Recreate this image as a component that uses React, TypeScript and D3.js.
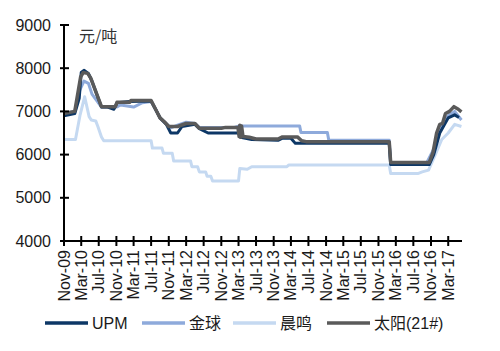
import { useRef, useEffect } from "react";
import * as d3 from "d3";

type Pt = [string, number];

// 太阳(21#)
const taiyang: Pt[] = [
  ["2009-11-01", 6950], ["2010-01-15", 7000], ["2010-02-25", 7800], ["2010-03-15", 7900],
  ["2010-04-15", 7880], ["2010-05-05", 7780], ["2010-07-20", 7110], ["2010-10-25", 7110],
  ["2010-11-05", 7210], ["2011-02-01", 7210], ["2011-02-10", 7250], ["2011-07-01", 7250],
  ["2011-08-01", 7050], ["2011-09-01", 6850], ["2011-10-01", 6760], ["2011-11-01", 6650],
  ["2012-01-01", 6650], ["2012-03-01", 6720], ["2012-05-01", 6720], ["2012-06-01", 6610],
  ["2012-11-01", 6610], ["2012-12-01", 6630], ["2013-02-25", 6630], ["2013-03-05", 6420],
  ["2013-03-10", 6680], ["2013-03-16", 6400], ["2013-03-22", 6660], ["2013-04-01", 6420],
  ["2013-05-15", 6400], ["2013-07-01", 6360], ["2013-12-01", 6360], ["2014-01-01", 6410],
  ["2014-04-15", 6410], ["2014-05-15", 6320], ["2014-06-15", 6300], ["2016-01-15", 6300],
  ["2016-01-25", 5820], ["2016-10-20", 5820], ["2016-11-15", 6050], ["2016-12-10", 6500],
  ["2017-01-01", 6700], ["2017-01-20", 6720], ["2017-02-10", 6950], ["2017-03-10", 7000],
  ["2017-04-10", 7110], ["2017-05-10", 7050], ["2017-06-01", 6990],
];

const upm: Pt[] = [
  ["2009-11-01", 6900], ["2010-01-15", 6950], ["2010-02-15", 7300], ["2010-03-01", 7900],
  ["2010-03-20", 7950], ["2010-04-20", 7880], ["2010-05-15", 7700], ["2010-07-20", 7100],
  ["2010-09-01", 7100], ["2010-10-15", 7050], ["2010-11-05", 7200], ["2011-02-01", 7230],
  ["2011-07-01", 7240], ["2011-08-01", 7050], ["2011-09-01", 6850], ["2011-10-15", 6700],
  ["2011-11-15", 6500], ["2012-01-01", 6500], ["2012-02-01", 6650], ["2012-05-01", 6700],
  ["2012-06-01", 6600], ["2012-08-01", 6500], ["2013-03-01", 6500], ["2013-03-15", 6400],
  ["2013-06-01", 6350], ["2013-12-01", 6330], ["2014-01-01", 6380], ["2014-03-01", 6380],
  ["2014-04-01", 6260], ["2016-01-15", 6260], ["2016-01-25", 5770], ["2016-10-20", 5770],
  ["2016-11-20", 6000], ["2017-01-01", 6500], ["2017-03-01", 6850], ["2017-04-15", 6920],
  ["2017-05-15", 6860],
];

const jinqiu: Pt[] = [
  ["2009-11-01", 6950], ["2010-01-15", 7000], ["2010-02-20", 7500], ["2010-03-20", 7700],
  ["2010-04-20", 7650], ["2010-05-15", 7400], ["2010-07-20", 7100], ["2010-11-01", 7100],
  ["2010-12-01", 7150], ["2011-03-01", 7100], ["2011-05-01", 7200], ["2011-07-01", 7230],
  ["2011-08-01", 7050], ["2011-09-01", 6850], ["2011-10-15", 6720], ["2011-11-15", 6620],
  ["2012-01-01", 6680], ["2012-03-01", 6750], ["2012-05-01", 6720], ["2012-06-01", 6630],
  ["2013-02-01", 6630], ["2013-03-01", 6660], ["2014-05-01", 6660], ["2014-05-10", 6510],
  ["2014-11-10", 6510], ["2014-11-20", 6330], ["2016-01-15", 6330], ["2016-01-25", 5800],
  ["2016-10-01", 5800], ["2016-12-01", 6200], ["2017-01-01", 6600], ["2017-03-01", 6900],
  ["2017-04-15", 7000], ["2017-06-01", 6800],
];

const chenming: Pt[] = [
  ["2009-11-01", 6350], ["2010-01-20", 6350], ["2010-02-20", 6900], ["2010-03-25", 7340],
  ["2010-04-25", 6880], ["2010-05-10", 6800], ["2010-06-10", 6780], ["2010-06-25", 6650],
  ["2010-07-20", 6410], ["2010-08-05", 6320], ["2011-07-01", 6320], ["2011-07-10", 6150],
  ["2011-09-15", 6150], ["2011-09-25", 6030], ["2011-11-25", 6030], ["2011-12-05", 5850],
  ["2012-04-01", 5850], ["2012-04-10", 5720], ["2012-05-20", 5720], ["2012-06-01", 5600],
  ["2012-07-15", 5600], ["2012-07-25", 5500], ["2012-08-20", 5500], ["2012-09-01", 5390],
  ["2013-03-01", 5390], ["2013-03-10", 5680], ["2013-05-01", 5660], ["2013-06-01", 5720],
  ["2014-02-01", 5720], ["2014-02-15", 5760], ["2016-01-15", 5760], ["2016-01-25", 5560],
  ["2016-08-01", 5560], ["2016-09-01", 5600], ["2016-10-15", 5640], ["2016-12-01", 6000],
  ["2017-01-15", 6350], ["2017-03-01", 6500], ["2017-04-15", 6700], ["2017-06-01", 6650],
];

const xTicks = [
  "2009-11-01", "2010-03-01", "2010-07-01", "2010-11-01", "2011-03-01", "2011-07-01",
  "2011-11-01", "2012-03-01", "2012-07-01", "2012-11-01", "2013-03-01", "2013-07-01",
  "2013-11-01", "2014-03-01", "2014-07-01", "2014-11-01", "2015-03-01", "2015-07-01",
  "2015-11-01", "2016-03-01", "2016-07-01", "2016-11-01", "2017-03-01",
];
const yTicks = [4000, 5000, 6000, 7000, 8000, 9000];

const SERIES = [
  { name: "UPM", data: upm, color: "#0d3766", width: 3 },
  { name: "金球", data: jinqiu, color: "#8eaadb", width: 3 },
  { name: "晨鸣", data: chenming, color: "#c5d9f1", width: 3 },
  { name: "太阳(21#)", data: taiyang, color: "#5a5a5a", width: 3.5 },
];
// draw order: light first, gray on top
const DRAW_ORDER = ["晨鸣", "金球", "UPM", "太阳(21#)"];

const FONT = "'Liberation Sans', Arial, sans-serif";

export default function App() {
  const svgRef = useRef<SVGSVGElement>(null);

  useEffect(() => {
    if (!svgRef.current) return;
    const svg = d3.select(svgRef.current);
    svg.selectAll("*").remove();

    const parse = d3.timeParse("%Y-%m-%d");
    const x = d3
      .scaleTime()
      .domain([parse("2009-11-01")!, parse("2017-06-05")!])
      .range([64, 462]);
    const y = d3.scaleLinear().domain([4000, 9000]).range([241, 25]);

    // Lines
    const line = d3
      .line<Pt>()
      .x((d) => x(parse(d[0])!))
      .y((d) => y(d[1]));

    DRAW_ORDER.forEach((nm) => {
      const s = SERIES.find((k) => k.name === nm)!;
      svg
        .append("path")
        .attr("d", line(s.data))
        .attr("fill", "none")
        .attr("stroke", s.color)
        .attr("stroke-width", s.width)
        .attr("stroke-linejoin", "round");
    });

    // Y axis
    svg
      .append("line")
      .attr("x1", 64).attr("x2", 64)
      .attr("y1", y(9000)).attr("y2", y(4000))
      .attr("stroke", "#000").attr("stroke-width", 2);
    yTicks.forEach((t) => {
      svg
        .append("line")
        .attr("x1", 60).attr("x2", 69)
        .attr("y1", y(t)).attr("y2", y(t))
        .attr("stroke", "#000").attr("stroke-width", 2);
      svg
        .append("text")
        .attr("x", 51)
        .attr("y", y(t) + 5.5)
        .attr("text-anchor", "end")
        .attr("font-size", "16px")
        .attr("font-family", FONT)
        .attr("fill", "#1a1a1a")
        .text(t);
    });

    // X axis
    svg
      .append("line")
      .attr("x1", 64).attr("x2", 462)
      .attr("y1", y(4000)).attr("y2", y(4000))
      .attr("stroke", "#000").attr("stroke-width", 2);
    xTicks.forEach((t) => {
      const px = x(parse(t)!);
      svg
        .append("line")
        .attr("x1", px).attr("x2", px)
        .attr("y1", 236).attr("y2", 246)
        .attr("stroke", "#000").attr("stroke-width", 2);
      svg
        .append("text")
        .attr("transform", `translate(${px + 5.5},250) rotate(-90)`)
        .attr("text-anchor", "end")
        .attr("font-size", "16px")
        .attr("font-family", FONT)
        .attr("fill", "#1a1a1a")
        .text(d3.timeFormat("%b-%y")(parse(t)!));
    });

    // Unit label
    svg
      .append("text")
      .attr("x", 79)
      .attr("y", 42)
      .attr("font-size", "16px")
      .attr("font-family", "'Noto Sans CJK SC', sans-serif")
      .attr("fill", "#333")
      .text("元/吨");

    // Legend
    const legendX = [45, 142, 233, 327];
    SERIES.forEach((s, i) => {
      const g = svg.append("g").attr("transform", `translate(${legendX[i]},323)`);
      g.append("line")
        .attr("x1", 0).attr("x2", 43)
        .attr("y1", 0).attr("y2", 0)
        .attr("stroke", s.color)
        .attr("stroke-width", 3.5);
      g.append("text")
        .attr("x", 47)
        .attr("y", 6)
        .attr("font-size", "16px")
        .attr("font-family", "'Liberation Sans', 'Noto Sans CJK SC', sans-serif")
        .attr("fill", "#1a1a1a")
        .text(s.name);
    });
  }, []);

  return (
    <div style={{ position: "fixed", left: 0, top: 0, width: 500, height: 351, background: "#fff" }}>
      <svg ref={svgRef} width={500} height={351} />
    </div>
  );
}
